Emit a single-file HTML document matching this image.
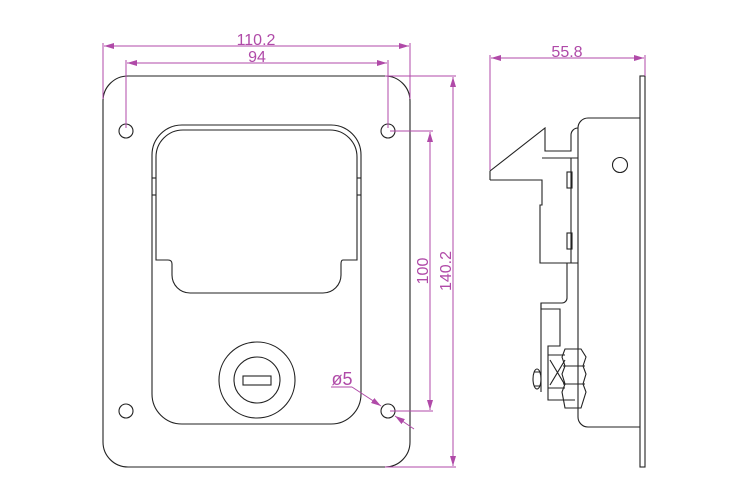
<!DOCTYPE html>
<html><head><style>body{margin:0;background:#fff}svg{display:block}</style></head><body>
<svg width="750" height="500" viewBox="0 0 750 500" xmlns="http://www.w3.org/2000/svg" font-family="Liberation Sans, sans-serif">
<defs>
<marker id="a" viewBox="0 0 10 6" refX="10" refY="3" markerWidth="10" markerHeight="6" orient="auto-start-reverse" markerUnits="userSpaceOnUse"><path d="M0,0L10,3L0,6z" fill="#b04aa8"/></marker>
</defs>
<g fill="none" stroke="#222" stroke-width="1.1">
<path d="M103,101 A25,25 0 0 1 128,76 L385,76 A25,25 0 0 1 410,101 L410,442 A25,25 0 0 1 385,467 L128,467 A25,25 0 0 1 103,442 Z"/>
<circle cx="126" cy="131" r="7"/><circle cx="388" cy="131" r="7"/>
<circle cx="126" cy="411" r="7"/><circle cx="388" cy="411" r="7"/>
<path d="M152,394 L152,155 A30,30 0 0 1 182,125 L331,125 A30,30 0 0 1 361,155 L361,394 A30,30 0 0 1 331,424 L182,424 A30,30 0 0 1 152,394 Z"/>
<path d="M156,260 L156,157 A27,27 0 0 1 183,130 L330,130 A27,27 0 0 1 357,157 L357,260 L343,260 Q341,260 341,264 L341,275 A18,18 0 0 1 323,293 L190,293 A18,18 0 0 1 172,275 L172,264 Q172,260 168,260 Z"/>
<line x1="152" y1="178" x2="156" y2="178"/><line x1="357" y1="178" x2="361" y2="178"/>
<line x1="152" y1="195" x2="156" y2="195"/><line x1="357" y1="195" x2="361" y2="195"/>
<circle cx="257" cy="380" r="38"/><circle cx="257" cy="380" r="23"/>
<rect x="243" y="376" width="28" height="9"/>
<rect x="640" y="76" width="5" height="391"/>
<path d="M640,118 L588,118 A10,10 0 0 0 578,128 L578,417 A10,10 0 0 0 588,427 L640,427"/>
<circle cx="620" cy="165" r="7.5"/>
<path d="M490,180 L490,171 L545,128 L545,151 L571,151 L571,135 A7,7 0 0 1 578,128"/>
<path d="M490,180 L542,180 L542,205 L540,205 L540,263 L578,263"/>
<path d="M542,158 L578,158"/>
<path d="M571,158 L571,263"/>
<rect x="567" y="172" width="5" height="16"/><rect x="567" y="233" width="5" height="16"/>
<path d="M567,263 L567,298 A5,5 0 0 1 562,303 L541,303 L541,392"/>
<path d="M541,303 L541,309 L560,309 L560,346 L548,346 L548,400 L575,400"/>
<path d="M548,355 L565,355 M548,388 L565,388 M550,360 L565,385 M550,385 L565,360"/>
<path d="M565,349 L581,349 L586,357 L583,366 L586,374 L583,384 L586,392 L581,408 L565,408 L562,392 L565,384 L562,374 L565,366 L562,357 Z"/>
<path d="M563,366 L585,366 M563,384 L585,384"/>
<ellipse cx="537" cy="379" rx="4" ry="10"/>
<path d="M534,372 L540,372 M534,386 L540,386"/>
</g>
<g stroke="#b04aa8" stroke-width="1" fill="none">
<line x1="103" y1="99" x2="103" y2="43"/><line x1="410" y1="99" x2="410" y2="43"/>
<line x1="104" y1="46" x2="409" y2="46" marker-start="url(#a)" marker-end="url(#a)"/>
<line x1="126" y1="128" x2="126" y2="60"/><line x1="388" y1="128" x2="388" y2="60"/>
<line x1="127" y1="63" x2="387" y2="63" marker-start="url(#a)" marker-end="url(#a)"/>
<line x1="390" y1="131" x2="433" y2="131"/><line x1="390" y1="411" x2="433" y2="411"/>
<line x1="430" y1="132" x2="430" y2="410" marker-start="url(#a)" marker-end="url(#a)"/>
<line x1="385" y1="76" x2="456" y2="76"/><line x1="385" y1="467" x2="456" y2="467"/>
<line x1="453" y1="77" x2="453" y2="466" marker-start="url(#a)" marker-end="url(#a)"/>
<line x1="331" y1="387" x2="352" y2="387"/>
<line x1="352" y1="387" x2="381" y2="406" marker-end="url(#a)"/>
<line x1="414" y1="429" x2="395" y2="416" marker-end="url(#a)"/>
<line x1="490" y1="170" x2="490" y2="55"/><line x1="645" y1="76" x2="645" y2="55"/>
<line x1="491" y1="58" x2="644" y2="58" marker-start="url(#a)" marker-end="url(#a)"/>
</g>
<g fill="#b04aa8" font-size="16">
<text x="256" y="45" text-anchor="middle">110.2</text>
<text x="257" y="62" text-anchor="middle">94</text>
<text x="567" y="57" text-anchor="middle">55.8</text>
<text x="342" y="385" text-anchor="middle" font-size="18">ø5</text>
<text transform="translate(428,271) rotate(-90)" text-anchor="middle">100</text>
<text transform="translate(451,271) rotate(-90)" text-anchor="middle">140.2</text>
</g>
</svg>
</body></html>
